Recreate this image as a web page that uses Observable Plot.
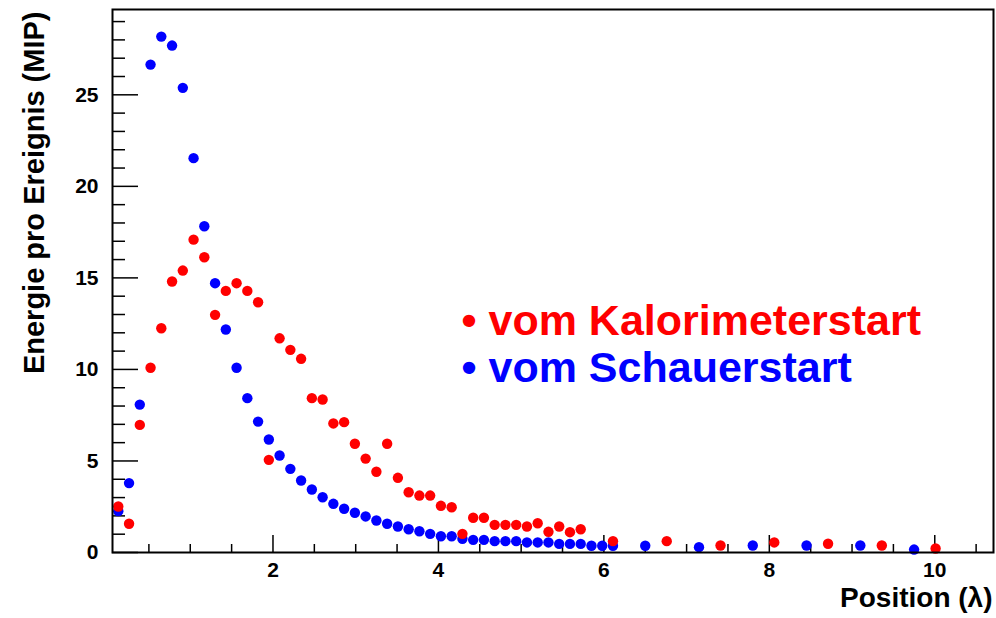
<!DOCTYPE html>
<html><head><meta charset="utf-8">
<script src="https://cdn.jsdelivr.net/npm/d3@7"></script>
<script src="https://cdn.jsdelivr.net/npm/@observablehq/plot@0.6"></script>
<style>
html,body{margin:0;padding:0;background:#fff;}
</style></head><body><div id="chart"></div>
<script>
// Energie pro Ereignis (MIP) vs Position (λ)
const kaloX = [0.13,0.26,0.39,0.52,0.65,0.78,0.91,1.04,1.17,1.30,1.43,1.56,1.69,1.82,1.95,2.08,2.21,2.34,2.47,2.60,2.73,2.86,2.99,3.12,3.25,3.38,3.51,3.64,3.77,3.90,4.03,4.16,4.29,4.42,4.55,4.68,4.81,4.94,5.07,5.20,5.33,5.46,5.59,5.72,6.11,6.76,7.41,8.06,8.71,9.36,10.01];
const kaloY = [2.51,1.57,6.97,10.09,12.25,14.80,15.40,17.09,16.13,12.98,14.29,14.71,14.29,13.67,5.06,11.70,11.07,10.58,8.43,8.36,7.05,7.12,5.94,5.13,4.41,5.94,4.08,3.29,3.11,3.11,2.55,2.47,1.02,1.90,1.90,1.51,1.51,1.51,1.42,1.60,1.13,1.42,1.11,1.27,0.62,0.62,0.38,0.55,0.48,0.38,0.22];
const schauerX = [0.13,0.26,0.39,0.52,0.65,0.78,0.91,1.04,1.17,1.30,1.43,1.56,1.69,1.82,1.95,2.08,2.21,2.34,2.47,2.60,2.73,2.86,2.99,3.12,3.25,3.38,3.51,3.64,3.77,3.90,4.03,4.16,4.29,4.42,4.55,4.68,4.81,4.94,5.07,5.20,5.33,5.46,5.59,5.72,5.85,5.98,6.11,6.50,7.15,7.80,8.45,9.10,9.75];
const schauerY = [2.26,3.79,8.08,26.65,28.18,27.69,25.38,21.54,17.82,14.71,12.18,10.09,8.43,7.15,6.17,5.30,4.57,3.93,3.44,3.02,2.66,2.39,2.17,1.97,1.75,1.57,1.42,1.27,1.16,1.02,0.89,0.89,0.75,0.69,0.69,0.62,0.62,0.62,0.55,0.55,0.55,0.47,0.47,0.47,0.37,0.37,0.37,0.37,0.29,0.38,0.38,0.38,0.16];

const xMajor = [2,4,6,8,10];
const xMinor = [0.5,1,1.5,2.5,3,3.5,4.5,5,5.5,6.5,7,7.5,8.5,9,9.5,10.5];
const yMajor = [0,5,10,15,20,25];
const yMinor = [1,2,3,4,6,7,8,9,11,12,13,14,16,17,18,19,21,22,23,24,26,27,28,29];

const xTitle = "Position (λ)";
const yTitle = "Energie pro Ereignis (MIP)";
const legendLabels = ["• vom Kalorimeterstart", "• vom Schauerstart"];
const colors = ["#ff0000", "#0000ff"];

const kalo = kaloX.map((x, i) => ({x, y: kaloY[i]}));
const schauer = schauerX.map((x, i) => ({x, y: schauerY[i]}));

const W = 996, H = 618, mL = 112, mR = 3, mT = 9, mB = 66;
const fw = W - mL - mR, fh = H - mT - mB;
const font = "'Liberation Sans', Arial, Helvetica, sans-serif";

const chart = Plot.plot({
  width: W, height: H,
  marginLeft: mL, marginRight: mR, marginTop: mT, marginBottom: mB,
  x: {domain: [0.06, 10.71]},
  y: {domain: [0, 29.66]},
  style: {fontFamily: font, fontWeight: "bold", background: "#fff", color: "#000", overflow: "visible"},
  marks: [
    Plot.tickX(xMinor, {x: d => d, insetTop: fh - 8, stroke: "#000", strokeWidth: 1.5}),
    Plot.tickX(xMajor, {x: d => d, insetTop: fh - 17, stroke: "#000", strokeWidth: 1.5}),
    Plot.tickY(yMinor, {y: d => d, insetRight: fw - 13, stroke: "#000", strokeWidth: 1.5}),
    Plot.tickY(yMajor, {y: d => d, insetRight: fw - 26, stroke: "#000", strokeWidth: 1.5}),
    Plot.axisX(xMajor, {tickSize: 0, tickPadding: 10, fontSize: 21, fontWeight: "bold", label: null, tickFormat: d => String(d)}),
    Plot.axisY(yMajor, {tickSize: 0, tickPadding: 14, fontSize: 21, fontWeight: "bold", label: null, tickFormat: d => String(d)}),
    Plot.dot(schauer, {x: "x", y: "y", r: 5.2, fill: colors[1]}),
    Plot.dot(kalo, {x: "x", y: "y", r: 5.2, fill: colors[0]}),
    Plot.frame({stroke: "#000", strokeWidth: 2}),
    Plot.text([xTitle], {text: d => d, frameAnchor: "bottom-right", dy: 54, dx: -1, textAnchor: "end", fontSize: 28, fontWeight: "bold", fill: "#000"}),
    Plot.text([yTitle], {text: d => d, frameAnchor: "top-left", dx: -89, dy: 2, rotate: -90, textAnchor: "end", fontSize: 29, fontWeight: "bold", fill: "#000"}),
    Plot.text([legendLabels[0]], {text: d => d, frameAnchor: "top-left", dx: 349, dy: 295, textAnchor: "start", fontSize: 43, fontWeight: "bold", fill: colors[0]}),
    Plot.text([legendLabels[1]], {text: d => d, frameAnchor: "top-left", dx: 349, dy: 342, textAnchor: "start", fontSize: 43, fontWeight: "bold", fill: colors[1]})
  ]
});
document.getElementById("chart").appendChild(chart);
</script>
</body></html>
